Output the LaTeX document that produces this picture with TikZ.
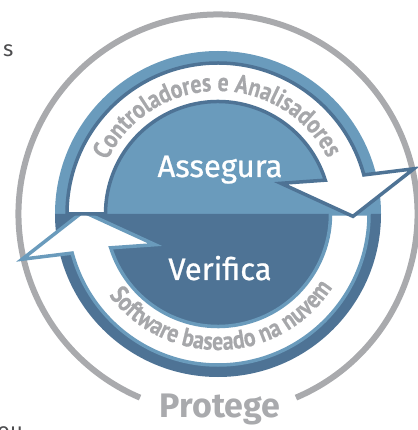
\documentclass[tikz,border=0pt]{standalone}
\usepackage{fontspec}
\setmainfont{Fira Sans}
\newfontfamily\bandfont[FakeStretch=0.84,FakeBold=0.4]{PT Sans}
\newfontfamily\etiqfont[FakeBold=0.8]{Fira Sans}
\usetikzlibrary{decorations.text}

\definecolor{bleuclair}{HTML}{6A9BBC}
\definecolor{bleufonce}{HTML}{4E7395}
\definecolor{grisanneau}{HTML}{A9AAAD}
\definecolor{gristexte}{HTML}{A6A7AA}
\definecolor{grisfonce}{HTML}{4D4D4F}

\tikzset{
	flechebande/.style={fill=white,draw=#1,line width=3.5pt,line join=miter},
	etiquette/.style={text=white,font=\etiqfont\fontsize{31}{31}\selectfont,anchor=base},
}

\newcommand{\cheminfleche}{(180:112.5) -- (180:151) arc[start angle=180,end angle=15,radius=151] -- (13:201) -- (359:135) -- (26:70) -- (17.5:112.5) arc[start angle=17.5,end angle=180,radius=112.5] -- cycle}

\begin{document}
\begin{tikzpicture}[x=1pt,y=1pt]
	\useasboundingbox (-218,-216) rectangle (199,214);
%	Tracé des demi-disques :
	\fill[bleuclair] (0:163) arc[start angle=0,end angle=180,radius=163] -- cycle;
	\fill[bleufonce] (180:163) arc[start angle=180,end angle=360,radius=163] -- cycle;
%	Tracé de l'anneau gris :
	\draw[grisanneau,line width=6pt] (-67:199.5) arc[start angle=-67,end angle=247,radius=199.5];
%	Tracé des flèches :
	\begin{scope}[rotate=180]
		\filldraw[flechebande=bleuclair] \cheminfleche;
	\end{scope}
	\filldraw[flechebande=bleufonce] \cheminfleche;
%	Textes :
	\node[etiquette] (assegura) at (2,37) {Assegura};
	\node[etiquette] (verifica) at (2,-66) {Verifica};
	\node[text=grisanneau,font=\bfseries\fontsize{34}{34}\selectfont,anchor=base] (protege) at (2,-203) {Protege};
	\path[decorate,decoration={text along path,text align=center,text color=gristexte,
		text={|\bandfont\bfseries\fontsize{26}{26}\selectfont|Controladores e Analisadores}}]
		(155:123) arc[start angle=155,end angle=26,radius=123];
	\path[decorate,decoration={text along path,text align=center,text color=gristexte,
		text={|\bandfont\bfseries\fontsize{26}{26}\selectfont|Software baseado na nuvem}}]
		(213:136) arc[start angle=213,end angle=331,radius=136];
	\node[text=grisfonce,font=\fontsize{22}{22}\selectfont,anchor=base west,inner sep=0pt] (mots) at (-215,157) {s};
	\node[text=grisfonce,font=\fontsize{22}{22}\selectfont,anchor=base west,inner sep=0pt] (ou) at (-221,-224) {ou};
\end{tikzpicture}
\end{document}
